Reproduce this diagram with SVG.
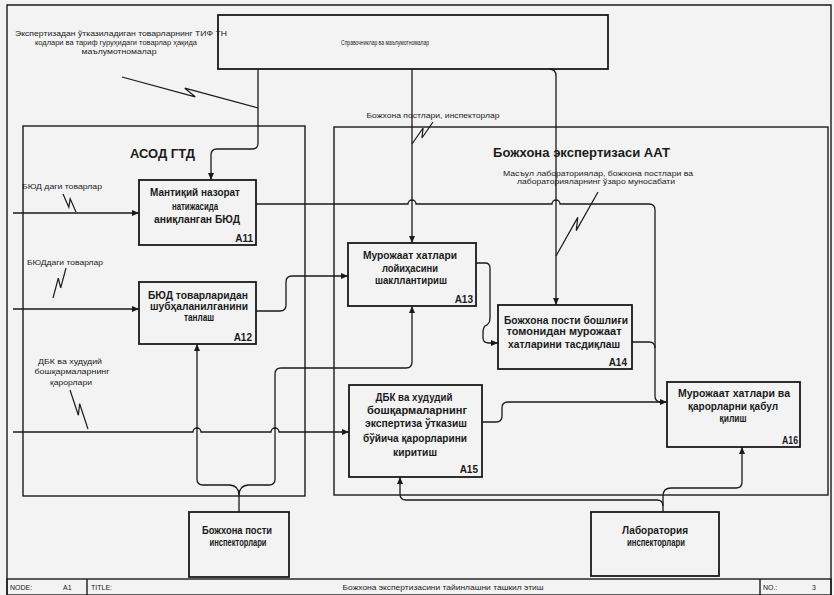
<svg xmlns="http://www.w3.org/2000/svg" width="834" height="595" viewBox="0 0 834 595">
<defs>
<marker id="arr" markerUnits="userSpaceOnUse" markerWidth="7" markerHeight="6" refX="7" refY="3" orient="auto">
<path d="M0,0 L7,3 L0,6 z" fill="#1a1a1a"/>
</marker>
<style>
text{font-family:"Liberation Sans",Arial,sans-serif;fill:#1a1a1a}
.n{font-size:10px;font-weight:bold;text-anchor:middle}
.id{font-size:10px;font-weight:bold;text-anchor:end}
.l{font-size:7px;text-anchor:middle}
.hd{font-size:13px;font-weight:bold}
.tb{font-size:7px}
.box{fill:none;stroke:#1a1a1a;stroke-width:1.8}
.cont{fill:none;stroke:#1a1a1a;stroke-width:1.4}
.c{fill:none;stroke:#1a1a1a;stroke-width:1.3}
.ca{fill:none;stroke:#1a1a1a;stroke-width:1.3;marker-end:url(#arr)}
.sq{fill:none;stroke:#1a1a1a;stroke-width:1.2}
</style>
</defs>
<rect x="0" y="0" width="834" height="595" fill="#f3f3f3"/>
<g id="frame">
<path d="M7,595 V5 H831 V595" class="cont"/>
<rect x="7" y="579" width="824" height="16" class="cont"/>
<line x1="87" y1="579" x2="87" y2="595" class="cont"/>
<line x1="760" y1="579" x2="760" y2="595" class="cont"/>
<text class="tb" x="10" y="590">NODE:</text>
<text class="tb" x="63" y="590">A1</text>
<text class="tb" x="91" y="590">TITLE:</text>
<text class="tb" x="443" y="590" text-anchor="middle" textLength="201" lengthAdjust="spacingAndGlyphs">Божхона экспертизасини тайинлашни ташкил этиш</text>
<text class="tb" x="763" y="590">NO.:</text>
<text class="tb" x="812" y="590">3</text>
</g>
<g id="asod">
<rect x="23" y="126" width="282" height="370" class="cont"/>
<text class="hd" x="130" y="158" textLength="65" lengthAdjust="spacingAndGlyphs">АСОД ГТД</text>
</g>
<g id="aat">
<rect x="334" y="127" width="494" height="368" class="cont"/>
<text class="hd" x="493" y="157" textLength="177" lengthAdjust="spacingAndGlyphs">Божхона экспертизаси ААТ</text>
</g>
<g id="refs">
<rect x="218" y="15" width="390" height="54" class="box"/>
<text class="l" x="385" y="44.5" style="font-size:7.5px" textLength="88" lengthAdjust="spacingAndGlyphs">Справочниклар ва маълумотномалар</text>
</g>
<g id="A11">
<rect x="139" y="180" width="117" height="65" class="box"/>
<text class="n" x="195" y="195.5" textLength="90" lengthAdjust="spacingAndGlyphs">Мантиқий назорат</text>
<text class="n" x="195" y="209.5" textLength="46" lengthAdjust="spacingAndGlyphs">натижасида</text>
<text class="n" x="197" y="222.5" textLength="86" lengthAdjust="spacingAndGlyphs">аниқланган БЮД</text>
<text class="id" x="253" y="241.5">A11</text>
</g>
<g id="A12">
<rect x="139" y="282" width="117" height="62" class="box"/>
<text class="n" x="198" y="298.5" textLength="100" lengthAdjust="spacingAndGlyphs">БЮД товарларидан</text>
<text class="n" x="199" y="309.5" textLength="98" lengthAdjust="spacingAndGlyphs">шубҳаланилганини</text>
<text class="n" x="199" y="320.5" textLength="30" lengthAdjust="spacingAndGlyphs">танлаш</text>
<text class="id" x="252" y="341">A12</text>
</g>
<g id="A13">
<rect x="348" y="243" width="128" height="63" class="box"/>
<text class="n" x="410" y="258.5" textLength="94" lengthAdjust="spacingAndGlyphs">Мурожаат хатлари</text>
<text class="n" x="410" y="271.5" textLength="56" lengthAdjust="spacingAndGlyphs">лойиҳасини</text>
<text class="n" x="411" y="283.5" textLength="72" lengthAdjust="spacingAndGlyphs">шакллантириш</text>
<text class="id" x="473" y="303">A13</text>
</g>
<g id="A14">
<rect x="498" y="305" width="134" height="64" class="box"/>
<text class="n" x="566" y="323.5" textLength="124" lengthAdjust="spacingAndGlyphs">Божхона пости бошлиғи</text>
<text class="n" x="564" y="335" textLength="115" lengthAdjust="spacingAndGlyphs">томонидан мурожаат</text>
<text class="n" x="564" y="347.5" textLength="112" lengthAdjust="spacingAndGlyphs">хатларини тасдиқлаш</text>
<text class="id" x="627" y="365.5">A14</text>
</g>
<g id="A15">
<rect x="349" y="385" width="133" height="92" class="box"/>
<text class="n" x="414" y="400.5" textLength="77" lengthAdjust="spacingAndGlyphs">ДБК ва худудий</text>
<text class="n" x="417" y="413.5" textLength="100" lengthAdjust="spacingAndGlyphs">бошқармаларнинг</text>
<text class="n" x="416" y="426.5" textLength="102" lengthAdjust="spacingAndGlyphs">экспертиза ўтказиш</text>
<text class="n" x="415" y="441.5" textLength="104" lengthAdjust="spacingAndGlyphs">бўйича қарорларини</text>
<text class="n" x="415" y="455.5" textLength="44" lengthAdjust="spacingAndGlyphs">киритиш</text>
<text class="id" x="478" y="473">A15</text>
</g>
<g id="A16">
<rect x="667" y="382" width="133" height="65" class="box"/>
<text class="n" x="734" y="396.5" textLength="112" lengthAdjust="spacingAndGlyphs">Мурожаат хатлари ва</text>
<text class="n" x="733" y="409.5" textLength="90" lengthAdjust="spacingAndGlyphs">қарорларни қабул</text>
<text class="n" x="733" y="422" textLength="27" lengthAdjust="spacingAndGlyphs">қилиш</text>
<text class="id" x="798" y="443.5" textLength="16" lengthAdjust="spacingAndGlyphs">A16</text>
</g>
<g id="post">
<rect x="189" y="512" width="100" height="65" class="box"/>
<text class="n" x="237" y="533.5" textLength="70" lengthAdjust="spacingAndGlyphs">Божхона пости</text>
<text class="n" x="238" y="546" textLength="57" lengthAdjust="spacingAndGlyphs">инспекторлари</text>
</g>
<g id="lab">
<rect x="591" y="512" width="128" height="64" class="box"/>
<text class="n" x="655" y="533.5" textLength="66" lengthAdjust="spacingAndGlyphs">Лаборатория</text>
<text class="n" x="656" y="545.5" textLength="58" lengthAdjust="spacingAndGlyphs">инспекторлари</text>
</g>
<g id="labels">
<text class="l" x="121" y="36" textLength="212" lengthAdjust="spacingAndGlyphs">Экспертизадан ўтказиладиган товарларнинг ТИФ ТН</text>
<text class="l" x="116" y="45" textLength="162" lengthAdjust="spacingAndGlyphs">кодлари ва тариф гуруҳидаги товарлар ҳақида</text>
<text class="l" x="119" y="54" textLength="75" lengthAdjust="spacingAndGlyphs">маълумотномалар</text>
<text class="l" x="433" y="117.5" textLength="133" lengthAdjust="spacingAndGlyphs">Божхона постлари, инспекторлар</text>
<text class="l" x="598" y="175.5" textLength="190" lengthAdjust="spacingAndGlyphs">Масъул лабораториялар, божхона постлари ва</text>
<text class="l" x="596" y="183.5" textLength="158" lengthAdjust="spacingAndGlyphs">лабораторияларнинг ўзаро муносабати</text>
<text class="l" x="62" y="188.5" textLength="80" lengthAdjust="spacingAndGlyphs">БЮД даги товарлар</text>
<text class="l" x="65" y="264.5" textLength="76" lengthAdjust="spacingAndGlyphs">БЮДдаги товарлар</text>
<text class="l" x="70" y="363.5" textLength="64" lengthAdjust="spacingAndGlyphs">ДБК ва худудий</text>
<text class="l" x="72" y="373.5" textLength="75" lengthAdjust="spacingAndGlyphs">бошқармаларнинг</text>
<text class="l" x="71" y="384.5" textLength="42" lengthAdjust="spacingAndGlyphs">қарорлари</text>
</g>
<g id="connectors">
<path class="ca" d="M258,69 V143 Q258,149 252,149 H217 Q211,149 211,155 V180"/>
<path class="ca" d="M412,69 V243"/>
<path class="ca" d="M549,69 Q556,69 556,76 V305"/>
<path class="ca" d="M13,213 H139"/>
<path class="ca" d="M13,309 H139"/>
<path class="ca" d="M13,432 H193 A4,4 0 0 1 201,432 H271 A4,4 0 0 1 279,432 H349"/>
<path class="ca" d="M256,204 H408 A4,4 0 0 1 416,204 H552 A4,4 0 0 1 560,204 H649 Q655,204 655,210 V396 Q655,402 661,402 H667"/>
<path class="ca" d="M256,311 H280 Q286,311 286,305 V282 Q286,276 292,276 H348"/>
<path class="ca" d="M476,263 H485 Q490,263 490,268 V318 Q490,324 485,326 Q483,328 483,333 V338 Q483,343 489,343 H498"/>
<path class="c" d="M632,342 H649 Q655,342 655,348"/>
<path class="c" d="M482,422 H496 Q502,422 502,416 V408 Q502,402 508,402 H661"/>
<path class="ca" d="M239,512 V495 Q239,486 230,485 H203 Q197,485 197,479 V344"/>
<path class="ca" d="M239,495 Q239,486 248,485 H269 Q275,485 275,479 V374 Q275,368 281,368 H406 Q412,368 412,362 V306"/>
<path class="ca" d="M663,512 V496 Q663,488 671,488 H736 Q742,488 742,482 V447"/>
<path class="ca" d="M663,506 Q663,500 657,500 H406 Q400,500 400,494 V477"/>
<path class="sq" d="M122,77 L195.2,96.8 L184.8,88.2 L258,108"/>
<path class="sq" d="M433,122 L421.9,138 L423.1,128 L412,144"/>
<path class="sq" d="M63,194 L68.8,207.2 L70.2,198.8 L76,212"/>
<path class="sq" d="M66,268 L60.7,287.9 L58.3,278.1 L53,298"/>
<path class="sq" d="M70,390 L78.4,415.3 L79.6,403.7 L88,429"/>
<path class="sq" d="M598,192 L576.2,230.6 L577.8,217.4 L556,256"/>
</g>
</svg>
